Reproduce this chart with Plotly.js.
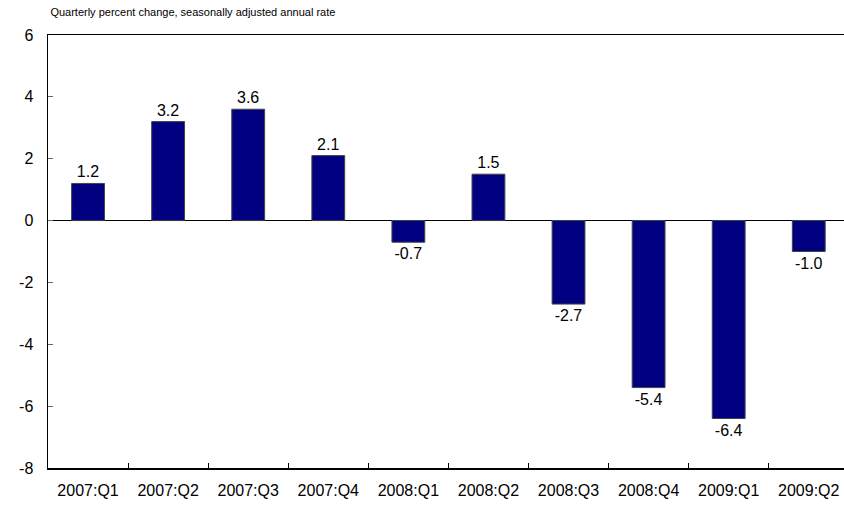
<!DOCTYPE html>
<html>
<head>
<meta charset="utf-8">
<script src="https://cdn.plot.ly/plotly-3.0.1.min.js"></script>
<style>html,body{margin:0;padding:0;background:#fff;}#chart{width:844px;height:508px;}</style>
</head>
<body>
<div id="chart"></div>
<script>
const quarters = ["2007:Q1","2007:Q2","2007:Q3","2007:Q4","2008:Q1","2008:Q2","2008:Q3","2008:Q4","2009:Q1","2009:Q2"];
const values = [1.2, 3.2, 3.6, 2.1, -0.7, 1.5, -2.7, -5.4, -6.4, -1.0];
const labels = values.map(v => v.toFixed(1));
const yTicks = [-8, -6, -4, -2, 0, 2, 4, 6];

const font = "Liberation Sans, Arial, sans-serif";

const trace = {
  type: "bar",
  x: quarters,
  y: values,
  text: labels,
  textposition: "outside",
  cliponaxis: false,
  textfont: {family: font, size: 16, color: "#000"},
  marker: {color: "#000080", line: {color: "#444444", width: 1}},
  width: 0.41,
  hoverinfo: "x+y"
};

const layout = {
  width: 844,
  height: 508,
  margin: {l: 48, r: 0, t: 35, b: 40},
  paper_bgcolor: "#fff",
  plot_bgcolor: "#fff",
  showlegend: false,
  font: {family: font, size: 16, color: "#000"},
  title: {
    text: "Quarterly percent change, seasonally adjusted annual rate",
    font: {family: font, size: 11, color: "#000"},
    x: 0.003, xanchor: "left", xref: "paper",
    y: 0.977, yanchor: "middle", yref: "container"
  },
  xaxis: {
    type: "category",
    range: [-0.5, 9.44],
    showline: true, linecolor: "#000", linewidth: 1.5, mirror: true,
    ticks: "inside", ticklen: 5, tickcolor: "#000", tickwidth: 1,
    tickson: "boundaries",
    showgrid: false, zeroline: false,
    tickfont: {family: font, size: 16, color: "#000"},
    ticklabelstandoff: 7
  },
  yaxis: {
    range: [-8, 6],
    tickvals: yTicks,
    ticktext: yTicks.map(String),
    showline: true, linecolor: "#000", linewidth: 1.5, mirror: false,
    ticks: "inside", ticklen: 5, tickcolor: "#666", tickwidth: 1,
    showgrid: false,
    zeroline: true, zerolinecolor: "#000", zerolinewidth: 1.2,
    tickfont: {family: font, size: 16, color: "#000"},
    ticklabelstandoff: 10
  },
  bargap: 0.59
};

Plotly.newPlot("chart", [trace], layout, {staticPlot: true, displayModeBar: false});
</script>
</body>
</html>
